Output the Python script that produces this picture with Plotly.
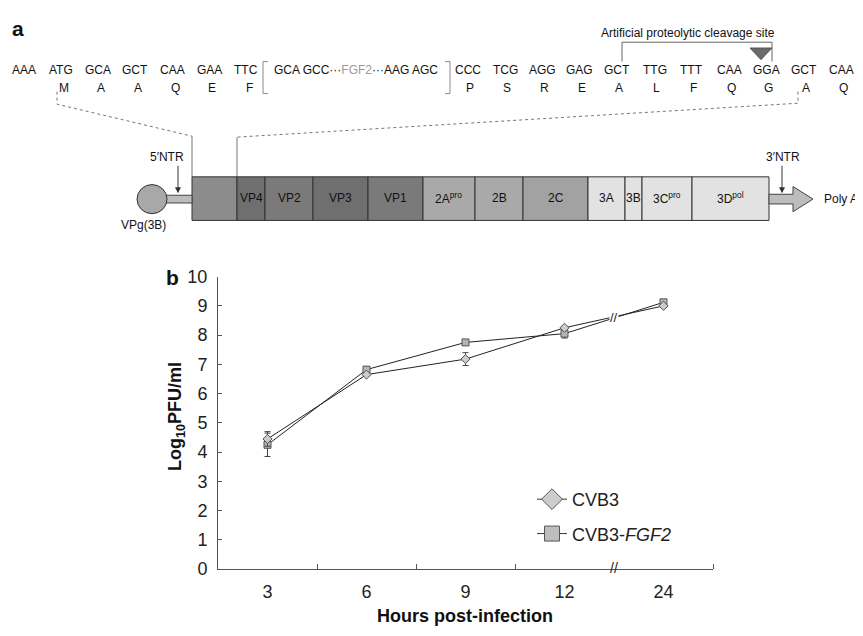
import plotly.graph_objects as go

W, H = 863, 636
OFF = 8  # page body margin of the html page

# ---------------- data (panel b) ----------------
hours = ['3', '6', '9', '12', '24']
cvb3 = [4.45, 6.65, 7.18, 8.25, 9.00]
cvb3_err = [0.25, 0.05, 0.22, 0.05, 0.05]
fgf2 = [4.25, 6.82, 7.75, 8.05, 9.12]
fgf2_err = [0.40, 0.08, 0.05, 0.15, 0.05]

# ---------------- panel a text content ----------------
codons_left = ['AAA', 'ATG', 'GCA', 'GCT', 'CAA', 'GAA', 'TTC']
aa_left = ['', 'M', 'A', 'A', 'Q', 'E', 'F']
codons_right = ['CCC', 'TCG', 'AGG', 'GAG', 'GCT', 'TTG', 'TTT', 'CAA', 'GGA', 'GCT', 'CAA']
aa_right = ['P', 'S', 'R', 'E', 'A', 'L', 'F', 'Q', 'G', 'A', 'Q']
segments = ['', 'VP4', 'VP2', 'VP3', 'VP1', '2A<sup>pro</sup>', '2B', '2C', '3A', '3B',
            '3C<sup>pro</sup>', '3D<sup>pol</sup>']
seg_edges = [192, 237, 265, 313, 368, 423, 475, 523, 588, 625, 642, 692, 769]
seg_colors = ['#8c8c8c', '#6f6f6f', '#7a7a7a', '#6f6f6f', '#7a7a7a', '#a9a9a9', '#a9a9a9',
              '#a2a2a2', '#e2e2e2', '#e2e2e2', '#e2e2e2', '#e2e2e2']

FONT = 'Liberation Sans, Arial, sans-serif'


def X(px):
    return (px - OFF) / W


def Y(py):
    return 1 - (py - OFF) / H


annotations = []
shapes = []


def txt(px, py, text, size=12, color='#111', **kw):
    d = dict(x=X(px), y=Y(py), xref='paper', yref='paper', text=text, showarrow=False,
             xanchor='center', yanchor='middle',
             font=dict(family=FONT, size=size, color=color))
    d.update(kw)
    annotations.append(d)


fig = go.Figure()
xs = list(range(len(hours)))

fig.add_trace(go.Scatter(
    x=xs, y=fgf2, mode='lines+markers', showlegend=False,
    error_y=dict(type='data', array=fgf2_err, color='#444', thickness=1, width=3),
    line=dict(color='#222', width=1),
    marker=dict(symbol='square', size=7, color='#b5b5b5', line=dict(color='#555', width=1))))
fig.add_trace(go.Scatter(
    x=xs, y=cvb3, mode='lines+markers', showlegend=False,
    error_y=dict(type='data', array=cvb3_err, color='#444', thickness=1, width=3),
    line=dict(color='#222', width=1),
    marker=dict(symbol='diamond', size=7, color='#cccccc', line=dict(color='#555', width=1))))

# legend entries
fig.add_trace(go.Scatter(
    x=[None], y=[None], mode='lines+markers', name='CVB3', legendgroup='g1',
    line=dict(color='#333', width=1),
    marker=dict(symbol='diamond', size=16, color='#cccccc', line=dict(color='#555', width=1))))
fig.add_trace(go.Scatter(
    x=[None], y=[None], mode='lines+markers', name='CVB3-<i>FGF2</i>', legendgroup='g2',
    line=dict(color='#333', width=1),
    marker=dict(symbol='square', size=15, color='#bdbdbd', line=dict(color='#555', width=1))))

# ---- chart axis decorations ----
mid_break = (cvb3[3] + cvb3[4] + fgf2[3] + fgf2[4]) / 4
annotations.append(dict(x=3.5, y=mid_break, xref='x', yref='y', text='//', showarrow=False,
                        xanchor='center', yanchor='middle',
                        font=dict(family=FONT, size=13, color='#222'), bgcolor='white',
                        borderpad=0))
annotations.append(dict(x=3.5, y=0, xref='x', yref='y', text='//', showarrow=False,
                        xanchor='center', yanchor='middle',
                        font=dict(family=FONT, size=14, color='#222'), yshift=1))

# panel letters
txt(18, 19, '<b>a</b>', size=21)
txt(172, 276, '<b>b</b>', size=21)
# axis titles
txt(176, 420, '<b>Log<sub>10</sub>PFU/ml</b>', size=18, textangle=-90)
txt(465, 625, '<b>Hours post-infection</b>', size=18)

# ---- panel a: sequence ----
left_x = [24 + 37 * i for i in range(len(codons_left))]
right_x = [841 - 37.3 * (len(codons_right) - 1 - i) for i in range(len(codons_right))]
for cx, c, a in zip(left_x, codons_left, aa_left):
    txt(cx, 62, c)
    if a:
        txt(cx + 3, 80, a)
for cx, c, a in zip(right_x, codons_right, aa_right):
    txt(cx, 62, c)
    txt(cx + 2, 80, a)
txt(356, 62, 'GCA GCC···<span style="color:#9a9a9a">FGF2</span>···AAG AGC')
txt(688, 23, 'Artificial proteolytic cleavage site', size=12)

gray = '#8a8a8a'
# square brackets around FGF2 insert
shapes.append(dict(type='path', xref='paper', yref='paper', line=dict(color=gray, width=1),
                   path=f'M {X(268)},{Y(53)} L {X(263)},{Y(53)} L {X(263)},{Y(86)} L {X(268)},{Y(86)}'))
shapes.append(dict(type='path', xref='paper', yref='paper', line=dict(color=gray, width=1),
                   path=f'M {X(445)},{Y(53)} L {X(450)},{Y(53)} L {X(450)},{Y(86)} L {X(445)},{Y(86)}'))
# cleavage bracket
shapes.append(dict(type='path', xref='paper', yref='paper', line=dict(color='#666', width=1),
                   path=f'M {X(622)},{Y(53)} L {X(622)},{Y(33)} L {X(772)},{Y(33)} L {X(772)},{Y(53)}'))
# triangle
shapes.append(dict(type='path', xref='paper', yref='paper', line=dict(color='#555', width=1),
                   fillcolor='#6a6a6a',
                   path=f'M {X(750)},{Y(39)} L {X(772)},{Y(39)} L {X(761)},{Y(51)} Z'))
# dotted guide lines
shapes.append(dict(type='path', xref='paper', yref='paper',
                   line=dict(color='#777', width=1, dash='dot'),
                   path=f'M {X(57)},{Y(84)} L {X(57)},{Y(97)} L {X(192)},{Y(130)}'))
shapes.append(dict(type='path', xref='paper', yref='paper',
                   line=dict(color='#777', width=1, dash='dot'),
                   path=f'M {X(798)},{Y(84)} L {X(798)},{Y(96)} L {X(237)},{Y(131)}'))
shapes.append(dict(type='line', xref='paper', yref='paper', line=dict(color='#777', width=1),
                   x0=X(192), x1=X(192), y0=Y(130), y1=Y(172)))
shapes.append(dict(type='line', xref='paper', yref='paper', line=dict(color='#777', width=1),
                   x0=X(237), x1=X(237), y0=Y(131), y1=Y(172)))

# ---- genome diagram ----
box_top, box_bot = 172, 217
for i, (lab, col) in enumerate(zip(segments, seg_colors)):
    x0, x1 = seg_edges[i], seg_edges[i + 1]
    shapes.append(dict(type='rect', xref='paper', yref='paper', x0=X(x0), x1=X(x1),
                       y0=Y(box_bot), y1=Y(box_top), fillcolor=col,
                       line=dict(color='#333', width=1)))
    if lab:
        txt((x0 + x1) / 2, 194, lab)
# 5' stem and VPg circle
shapes.append(dict(type='rect', xref='paper', yref='paper', x0=X(166), x1=X(192),
                   y0=Y(199), y1=Y(191), fillcolor='#bdbdbd', line=dict(color='#444', width=1)))
shapes.append(dict(type='circle', xref='paper', yref='paper', x0=X(137), x1=X(167),
                   y0=Y(210), y1=Y(180), fillcolor='#a8a8a8', line=dict(color='#333', width=1)))
# 3' poly A arrow
shapes.append(dict(type='path', xref='paper', yref='paper', fillcolor='#bdbdbd',
                   line=dict(color='#444', width=1),
                   path=(f'M {X(769)},{Y(190)} L {X(793)},{Y(190)} L {X(793)},{Y(182)} '
                         f'L {X(813)},{Y(195)} L {X(793)},{Y(208)} L {X(793)},{Y(200)} '
                         f'L {X(769)},{Y(200)} Z')))
# NTR arrows
for ax_ in [178, 782]:
    annotations.append(dict(x=X(ax_), y=Y(189), xref='paper', yref='paper', ax=0, ay=-29,
                            text='', showarrow=True,
                            arrowhead=2, arrowsize=1.2, arrowwidth=1, arrowcolor='#333'))
txt(167, 152, "5′NTR")
txt(783, 152, "3′NTR")
txt(841, 195, 'Poly A')
txt(143, 222, 'VPg(3B)')

fig.update_layout(
    width=W, height=H, margin=dict(l=0, r=0, t=0, b=0),
    paper_bgcolor='white', plot_bgcolor='white',
    font=dict(family=FONT, size=18, color='#222'),
    xaxis=dict(domain=[X(218), X(713)], range=[-0.5, 4.5], tickvals=xs, ticktext=hours,
               showline=True, linecolor='#555', linewidth=1, ticks='', showgrid=False,
               zeroline=False, ticklabelstandoff=6,
               tickfont=dict(family=FONT, size=18, color='#222'),
               minor=dict(tickvals=[0.5, 1.5, 2.5, 4.5], ticks='inside', ticklen=5,
                          tickcolor='#555', tickwidth=1, showgrid=False)),
    yaxis=dict(domain=[Y(577), Y(275)], range=[0, 10], dtick=1, showline=True,
               linecolor='#555', linewidth=1, ticks='inside', ticklen=4, tickcolor='#555',
               showgrid=False, zeroline=False, ticklabelstandoff=6,
               tickfont=dict(family=FONT, size=18, color='#222')),
    legend=dict(x=X(532), y=Y(486), xanchor='left', yanchor='top', bgcolor='rgba(0,0,0,0)',
                font=dict(family=FONT, size=18, color='#222'), tracegroupgap=8,
                itemwidth=30),
    annotations=annotations, shapes=shapes,
)

fig.write_html('out.html')
